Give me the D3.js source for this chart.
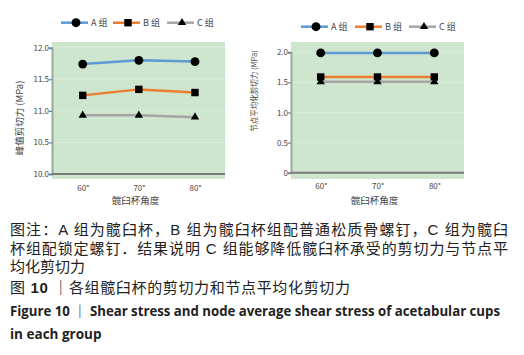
<!DOCTYPE html>
<html lang="zh">
<head>
<meta charset="UTF-8">
<title>图 10 各组髋臼杯的剪切力和节点平均化剪切力</title>
<script src="https://d3js.org/d3.v7.min.js"></script>
<style>
    body { margin: 0; background: #fff; }
    svg { display: block; }
    text { font-family: "Noto Sans CJK SC", "Noto Sans", sans-serif; }
    .cap { font-family: "Liberation Sans", "Noto Sans CJK SC", sans-serif; }
</style>
</head>
<body>
<div id="chart"></div>
<script>
    // Data
    const angles = ["60°", "70°", "80°"];
    const groups = ["A 组", "B 组", "C 组"];
    // left panel: peak shear stress (MPa)
    const peakA = [11.74, 11.80, 11.78];
    const peakB = [11.245, 11.34, 11.29];
    const peakC = [10.93, 10.93, 10.90];
    const peakTicks = [10.0, 10.5, 11.0, 11.5, 12.0];
    // right panel: node average shear stress (MPa)
    const nodeA = [1.99, 1.99, 1.99];
    const nodeB = [1.59, 1.59, 1.59];
    const nodeC = [1.51, 1.51, 1.51];
    const nodeTicks = [0, 0.5, 1.0, 1.5, 2.0];

    const captionLines = [
        "图注：A 组为髋臼杯，B 组为髋臼杯组配普通松质骨螺钉，C 组为髋臼",
        "杯组配锁定螺钉．结果说明 C 组能够降低髋臼杯承受的剪切力与节点平",
        "均化剪切力"
    ];

    const width = 524, height = 355;
    const colors = ["#5b9bd5", "#ed7d31", "#a5a5a5"];
    const symbols = [d3.symbolCircle, d3.symbolSquare, d3.symbolTriangle];
    const symSize = [62, 55, 30];

    const svg = d3.select("#chart").append("svg")
        .attr("width", width)
        .attr("height", height);

    function panel(opt) {
        const g = svg.append("g");
        const x = d3.scalePoint().domain(angles).range(opt.xr);
        const y = d3.scaleLinear().domain(opt.domain).range([opt.y0, opt.y1]);

        // plot background
        g.append("rect")
            .attr("x", opt.bg[0]).attr("y", 42)
            .attr("width", opt.bg[1] - opt.bg[0]).attr("height", 137)
            .attr("fill", "#cde6cd");

        // faint grid
        g.selectAll(".grid").data(opt.ticks.slice(1)).join("line")
            .attr("x1", opt.bg[0]).attr("x2", opt.bg[1])
            .attr("y1", d => y(d)).attr("y2", d => y(d))
            .attr("stroke", "#dcecdc").attr("stroke-width", 0.8);

        // axes
        const ya = g.append("g")
            .attr("transform", `translate(${opt.bg[0]},0)`)
            .call(d3.axisLeft(y).tickValues(opt.ticks).tickSize(3).tickFormat(opt.fmt));
        ya.select(".domain").attr("stroke", "#9aaa9a").attr("stroke-width", 2);
        ya.selectAll(".tick line").attr("stroke", "#666");
        ya.selectAll(".tick text").attr("font-size", 8).attr("fill", "#444").attr("x", -3);

        g.append("line")
            .attr("x1", opt.bg[0]).attr("x2", opt.bg[1])
            .attr("y1", opt.y0).attr("y2", opt.y0)
            .attr("stroke", "#7a7a7a").attr("stroke-width", 2);

        const xa = g.append("g")
            .attr("transform", `translate(0,${opt.y0})`)
            .call(d3.axisBottom(x).tickSize(0).tickPadding(11));
        xa.select(".domain").remove();
        xa.selectAll(".tick text").attr("font-size", 8).attr("fill", "#444");

        g.append("text")
            .attr("x", (opt.bg[0] + opt.bg[1]) / 2 - 3).attr("y", 204)
            .attr("text-anchor", "middle").attr("font-size", 9.5).attr("fill", "#444")
            .text("髋臼杯角度");

        g.append("text")
            .attr("transform", `translate(${opt.tx},${opt.ty}) rotate(-90)`)
            .attr("text-anchor", "middle").attr("font-size", opt.tfs).attr("fill", "#444")
            .text(opt.title);

        // lines and markers
        const line = d3.line().x((d, i) => x(angles[i])).y(d => y(d));
        opt.series.forEach((s, k) => {
            g.append("path").datum(s)
                .attr("fill", "none").attr("stroke", colors[k])
                .attr("stroke-width", 2.5).attr("d", line);
            g.selectAll(".m" + k).data(s).join("path")
                .attr("transform", (d, i) => `translate(${x(angles[i])},${y(d)})`)
                .attr("d", d3.symbol().type(symbols[k]).size(symSize[k]))
                .attr("fill", "#000");
        });

        // legend
        groups.forEach((name, k) => {
            const lx = opt.legX[k];
            g.append("line")
                .attr("x1", lx - 15).attr("x2", lx + 12)
                .attr("y1", opt.legY).attr("y2", opt.legY)
                .attr("stroke", colors[k]).attr("stroke-width", 2.5);
            g.append("path")
                .attr("transform", `translate(${lx},${opt.legY})`)
                .attr("d", d3.symbol().type(symbols[k]).size(symSize[k]))
                .attr("fill", "#000");
            g.append("text")
                .attr("x", lx + 15).attr("y", opt.legY + 3.5)
                .attr("font-size", 9).attr("fill", "#444")
                .text(name);
        });
    }

    panel({
        xr: [82.7, 195], bg: [52, 225], y0: 174, y1: 47.7,
        domain: [10, 12], ticks: peakTicks, fmt: d3.format(".1f"),
        series: [peakA, peakB, peakC],
        title: "峰值剪切力 (MPa)", tx: 23, ty: 118, tfs: 9.5,
        legX: [76, 128, 182], legY: 22.7
    });

    panel({
        xr: [320.7, 434.3], bg: [291, 464], y0: 172.7, y1: 52.3,
        domain: [0, 2], ticks: nodeTicks, fmt: d => d === 0 ? "0" : d3.format(".1f")(d),
        series: [nodeA, nodeB, nodeC],
        title: "节点平均化剪切力 (MPa)", tx: 257, ty: 91, tfs: 7.5,
        legX: [316, 370, 424], legY: 26.7
    });

    // caption
    const cap = svg.append("g").attr("fill", "#222").attr("class", "cap");
    captionLines.forEach((t, i) => {
        const el = cap.append("text").attr("class", "cap")
            .attr("x", 10).attr("y", 235 + i * 18.5)
            .attr("font-size", 15).text(t);
        if (i < 2) el.attr("textLength", 498).attr("lengthAdjust", "spacing");
    });

    const f1 = cap.append("text").attr("class", "cap")
        .attr("x", 10).attr("y", 293).attr("font-size", 15)
        .attr("textLength", 340).attr("lengthAdjust", "spacing");
    f1.append("tspan").text("图 ");
    f1.append("tspan").attr("font-weight", "bold").text("10");
    f1.append("tspan").text(" ｜各组髋臼杯的剪切力和节点平均化剪切力");

    cap.append("text")
        .attr("x", 10).attr("y", 316)
        .attr("font-size", 13.5).attr("font-weight", "bold")
        .style("font-family", "'Open Sans', 'Noto Sans CJK SC', sans-serif")
        .attr("textLength", 490).attr("lengthAdjust", "spacingAndGlyphs")
        .text("Figure 10  ｜  Shear stress and node average shear stress of acetabular cups");
    cap.append("text")
        .attr("x", 10).attr("y", 339)
        .attr("font-size", 13.5).attr("font-weight", "bold")
        .style("font-family", "'Open Sans', sans-serif")
        .text("in each group");
</script>
</body>
</html>
